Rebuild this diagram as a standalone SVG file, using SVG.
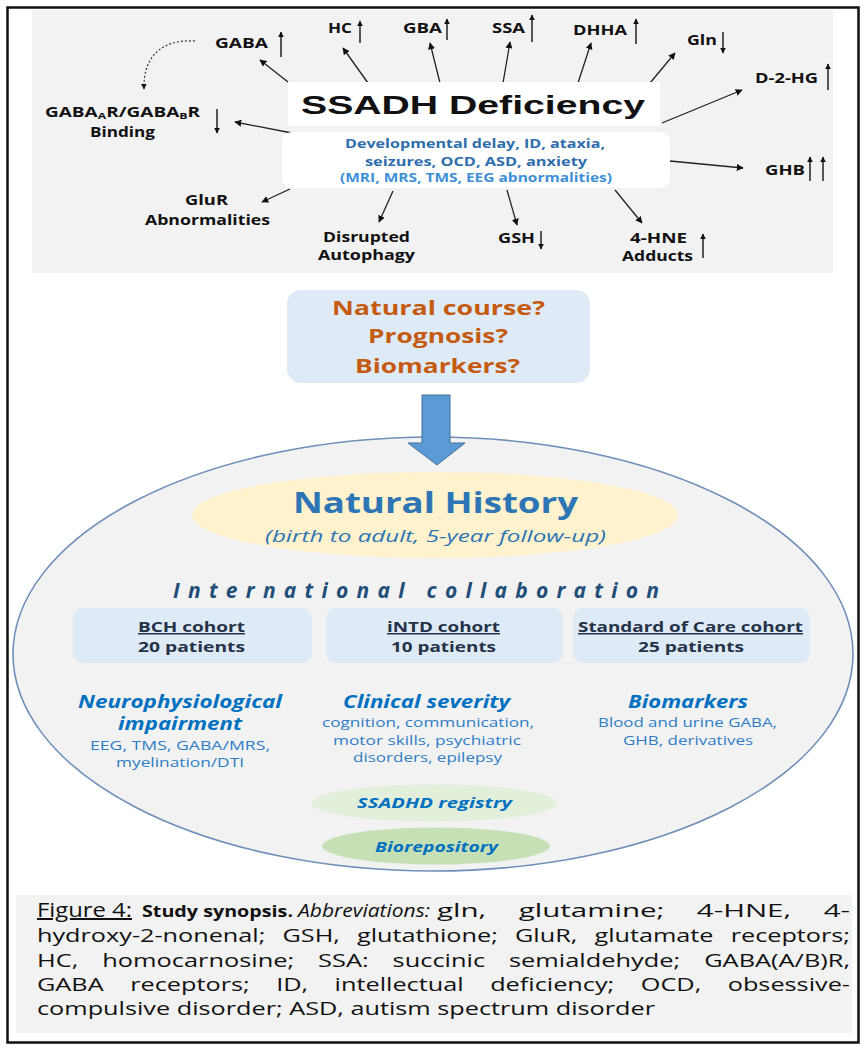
<svg xmlns="http://www.w3.org/2000/svg" width="867" height="1050" viewBox="0 0 867 1050">
<defs>
<marker id="ah" viewBox="0 0 10 10" refX="9" refY="5" markerWidth="7" markerHeight="7" markerUnits="userSpaceOnUse" orient="auto"><path d="M0,0 L10,5 L0,10 z" fill="#111"/></marker>
<marker id="ih" viewBox="0 0 10 10" refX="9" refY="5" markerWidth="6" markerHeight="6" markerUnits="userSpaceOnUse" orient="auto"><path d="M0,0 L10,5 L0,10 z" fill="#111"/></marker>
<style>
.f{font-family:"Open Sans","Liberation Sans",sans-serif}
.lbl{font-family:"Open Sans","Liberation Sans",sans-serif;font-weight:bold;font-size:14px;fill:#111}
.con{stroke:#222;stroke-width:1.3;fill:none;marker-end:url(#ah)}
.ind{stroke:#555;stroke-width:2;fill:none;marker-end:url(#ih)}
.sym{font-family:"Open Sans","Liberation Sans",sans-serif;font-weight:bold;font-size:13px;fill:#2f6eac}
.q{font-family:"Open Sans","Liberation Sans",sans-serif;font-weight:bold;font-size:20px;fill:#c55a11}
.coh{font-family:"Open Sans","Liberation Sans",sans-serif;font-weight:bold;font-size:15px;fill:#263247}
.hd{font-family:"Open Sans","Liberation Sans",sans-serif;font-weight:bold;font-style:italic;font-size:18px;fill:#0070c0}
.sub{font-family:"Open Sans","Liberation Sans",sans-serif;font-size:13px;fill:#2e7dc6}
.cap{font-family:"Open Sans","Liberation Sans",sans-serif;font-size:19px;fill:#111}
.box{fill:#deebf7}
</style>
</defs>
<rect x="0" y="0" width="867" height="1050" fill="#ffffff"/>
<rect x="7.5" y="7.5" width="851" height="1035" fill="none" stroke="#111" stroke-width="2.5"/>

<!-- top panel -->
<rect x="32" y="10" width="801" height="263" fill="#f2f2f2"/>

<g id="connectors">
<path class="con" d="M288,82 L260,60"/>
<path class="con" d="M368,83 L343,48"/>
<path class="con" d="M440,83 L430,43"/>
<path class="con" d="M503,83 L510,42"/>
<path class="con" d="M578,83 L591,43"/>
<path class="con" d="M650,83 L675,53"/>
<path class="con" d="M662,123 L742,90"/>
<path class="con" d="M670,161 L743,168"/>
<path class="con" d="M615,190 L642,223"/>
<path class="con" d="M507,190 L517,225"/>
<path class="con" d="M393,191 L379,222"/>
<path class="con" d="M290,189 L262,202"/>
<path class="con" d="M292,133 L235,122"/>
<path d="M195,41 C160,39 143,58 144,89" fill="none" stroke="#333" stroke-width="1.2" stroke-dasharray="2,2" marker-end="url(#ih)"/>
</g>

<g id="ssadh">
<rect x="288" y="82" width="372" height="44" fill="#ffffff"/>
<text x="301" y="114" font-family="Liberation Sans, Arial, sans-serif" font-weight="bold" font-size="26" fill="#111" textLength="344" lengthAdjust="spacingAndGlyphs">SSADH Deficiency</text>
</g>
<g id="symptoms">
<rect x="282" y="132" width="388" height="56" rx="10" fill="#ffffff"/>
<text x="345" y="148" class="sym" textLength="260" lengthAdjust="spacingAndGlyphs">Developmental delay, ID, ataxia,</text>
<text x="365" y="166" class="sym" textLength="222" lengthAdjust="spacingAndGlyphs">seizures, OCD, ASD, anxiety</text>
<text x="340" y="182" class="sym" style="fill:#3d8fd6" textLength="272" lengthAdjust="spacingAndGlyphs">(MRI, MRS, TMS, EEG abnormalities)</text>
</g>

<g id="gaba"><text x="215" y="48" class="lbl" textLength="53" lengthAdjust="spacingAndGlyphs">GABA</text><path class="ind" d="M281,57 L281,32"/></g>
<g id="hc"><text x="328" y="33" class="lbl" textLength="24" lengthAdjust="spacingAndGlyphs">HC</text><path class="ind" d="M360,43 L360,21"/></g>
<g id="gba"><text x="403" y="33" class="lbl" textLength="39" lengthAdjust="spacingAndGlyphs">GBA</text><path class="ind" d="M447,40 L447,19"/></g>
<g id="ssa"><text x="492" y="33" class="lbl" textLength="33" lengthAdjust="spacingAndGlyphs">SSA</text><path class="ind" d="M532,42 L532,15"/></g>
<g id="dhha"><text x="573" y="35" class="lbl" textLength="54" lengthAdjust="spacingAndGlyphs">DHHA</text><path class="ind" d="M636,44 L636,19"/></g>
<g id="gln"><text x="687" y="45" class="lbl" textLength="30" lengthAdjust="spacingAndGlyphs">Gln</text><path class="ind" d="M723,32 L723,53"/></g>
<g id="d2hg"><text x="755" y="83" class="lbl" textLength="63" lengthAdjust="spacingAndGlyphs">D-2-HG</text><path class="ind" d="M828,90 L828,64"/></g>
<g id="ghb"><text x="765" y="175" class="lbl" textLength="40" lengthAdjust="spacingAndGlyphs">GHB</text><path class="ind" d="M810,181 L810,157"/><path class="ind" d="M823,181 L823,157"/></g>
<g id="hne"><text x="630" y="243" class="lbl" textLength="57" lengthAdjust="spacingAndGlyphs">4-HNE</text><text x="622" y="261" class="lbl" textLength="71" lengthAdjust="spacingAndGlyphs">Adducts</text><path class="ind" d="M703,258 L703,234"/></g>
<g id="gsh"><text x="498" y="243" class="lbl" textLength="37" lengthAdjust="spacingAndGlyphs">GSH</text><path class="ind" d="M541,231 L541,249"/></g>
<g id="autophagy"><text x="323" y="242" class="lbl" textLength="87" lengthAdjust="spacingAndGlyphs">Disrupted</text><text x="318" y="260" class="lbl" textLength="97" lengthAdjust="spacingAndGlyphs">Autophagy</text></g>
<g id="glur"><text x="185" y="205" class="lbl" textLength="43" lengthAdjust="spacingAndGlyphs">GluR</text><text x="145" y="225" class="lbl" textLength="125" lengthAdjust="spacingAndGlyphs">Abnormalities</text></g>
<g id="gabar"><text x="45" y="117" class="lbl" textLength="155" lengthAdjust="spacingAndGlyphs">GABA<tspan font-size="9" dy="2">A</tspan><tspan dy="-2">R/GABA</tspan><tspan font-size="9" dy="2">B</tspan><tspan dy="-2">R</tspan></text><text x="90" y="137" class="lbl" textLength="65" lengthAdjust="spacingAndGlyphs">Binding</text><path class="ind" d="M217,109 L217,133"/></g>

<g id="questions">
<rect x="287" y="290" width="303" height="93" rx="14" class="box"/>
<text x="332" y="315" class="q" textLength="213" lengthAdjust="spacingAndGlyphs">Natural course?</text>
<text x="368" y="343" class="q" textLength="140" lengthAdjust="spacingAndGlyphs">Prognosis?</text>
<text x="355" y="373" class="q" textLength="165" lengthAdjust="spacingAndGlyphs">Biomarkers?</text>
</g>

<g id="natural-history">
<ellipse cx="433" cy="654" rx="420" ry="217" fill="#f2f2f2" stroke="#6f8fba" stroke-width="1.6"/>
<ellipse cx="435" cy="515" rx="243" ry="43" fill="#fff2cc"/>
<text x="293" y="513" class="f" font-weight="bold" font-size="28" fill="#2e75b6" textLength="285" lengthAdjust="spacingAndGlyphs">Natural History</text>
<text x="265" y="542" class="f" font-style="italic" font-size="16" fill="#2e75b6" textLength="341" lengthAdjust="spacingAndGlyphs">(birth to adult, 5-year follow-up)</text>
<text x="173" y="598" class="f" font-weight="bold" font-style="italic" font-size="21" fill="#1f4e79" letter-spacing="4" textLength="490" lengthAdjust="spacing">International collaboration</text>
</g>

<g id="arrow-down">
<path d="M422,395 L450,395 L450,443 L465,443 L437,465 L408,443 L422,443 Z" fill="#5b9bd5" stroke="#41719c" stroke-width="1"/>
</g>

<g id="bch">
<rect x="73" y="608" width="239" height="55" rx="10" class="box"/>
<text x="138" y="632" class="coh" text-decoration="underline" textLength="107" lengthAdjust="spacingAndGlyphs">BCH cohort</text>
<text x="138" y="652" class="coh" textLength="107" lengthAdjust="spacingAndGlyphs">20 patients</text>
</g>
<g id="intd">
<rect x="326" y="608" width="237" height="55" rx="10" class="box"/>
<text x="387" y="632" class="coh" text-decoration="underline" textLength="113" lengthAdjust="spacingAndGlyphs">iNTD cohort</text>
<text x="391" y="652" class="coh" textLength="105" lengthAdjust="spacingAndGlyphs">10 patients</text>
</g>
<g id="soc">
<rect x="573" y="608" width="237" height="55" rx="10" class="box"/>
<text x="578" y="632" class="coh" text-decoration="underline" textLength="225" lengthAdjust="spacingAndGlyphs">Standard of Care cohort</text>
<text x="638" y="652" class="coh" textLength="106" lengthAdjust="spacingAndGlyphs">25 patients</text>
</g>

<g id="neuro">
<text x="78" y="708" class="hd" textLength="204" lengthAdjust="spacingAndGlyphs">Neurophysiological</text>
<text x="118" y="730" class="hd" textLength="124" lengthAdjust="spacingAndGlyphs">impairment</text>
<text x="90" y="750" class="sub" textLength="180" lengthAdjust="spacingAndGlyphs">EEG, TMS, GABA/MRS,</text>
<text x="116" y="767" class="sub" textLength="128" lengthAdjust="spacingAndGlyphs">myelination/DTI</text>
</g>
<g id="clinical">
<text x="343" y="708" class="hd" textLength="167" lengthAdjust="spacingAndGlyphs">Clinical severity</text>
<text x="322" y="727" class="sub" textLength="212" lengthAdjust="spacingAndGlyphs">cognition, communication,</text>
<text x="333" y="745" class="sub" textLength="188" lengthAdjust="spacingAndGlyphs">motor skills, psychiatric</text>
<text x="353" y="762" class="sub" textLength="149" lengthAdjust="spacingAndGlyphs">disorders, epilepsy</text>
</g>
<g id="biomarkers">
<text x="628" y="708" class="hd" textLength="120" lengthAdjust="spacingAndGlyphs">Biomarkers</text>
<text x="598" y="727" class="sub" textLength="179" lengthAdjust="spacingAndGlyphs">Blood and urine GABA,</text>
<text x="623" y="745" class="sub" textLength="130" lengthAdjust="spacingAndGlyphs">GHB, derivatives</text>
</g>
<g id="registry">
<ellipse cx="434" cy="803" rx="123" ry="18.5" fill="#e2efda"/>
<text x="357" y="808" class="hd" style="font-size:15px" textLength="155" lengthAdjust="spacingAndGlyphs">SSADHD registry</text>
</g>
<g id="biorepository">
<ellipse cx="436" cy="846" rx="114" ry="18.5" fill="#c5e0b4"/>
<text x="375" y="852" class="hd" style="font-size:15px" textLength="123" lengthAdjust="spacingAndGlyphs">Biorepository</text>
</g>

<g id="caption">
<rect x="16" y="895" width="836" height="138" fill="#f2f2f2"/>
<text x="37" y="917" class="cap" style="font-size:20px" text-decoration="underline" textLength="95" lengthAdjust="spacingAndGlyphs">Figure 4:</text>
<text x="142" y="917" class="cap" style="font-size:15.5px;font-weight:bold" textLength="151" lengthAdjust="spacingAndGlyphs">Study synopsis.</text>
<text x="298" y="917" class="cap" style="font-style:italic" textLength="132" lengthAdjust="spacingAndGlyphs">Abbreviations:</text>
<text x="437" y="917" class="cap" word-spacing="16" textLength="413" lengthAdjust="spacingAndGlyphs">gln, glutamine; 4-HNE, 4-</text>
<text x="37" y="942" class="cap" word-spacing="8" textLength="813" lengthAdjust="spacingAndGlyphs">hydroxy-2-nonenal; GSH, glutathione; GluR, glutamate receptors;</text>
<text x="37" y="967" class="cap" word-spacing="13" textLength="813" lengthAdjust="spacingAndGlyphs">HC, homocarnosine; SSA: succinic semialdehyde; GABA(A/B)R,</text>
<text x="37" y="991" class="cap" word-spacing="15" textLength="813" lengthAdjust="spacingAndGlyphs">GABA receptors; ID, intellectual deficiency; OCD, obsessive-</text>
<text x="37" y="1015" class="cap" textLength="618" lengthAdjust="spacingAndGlyphs">compulsive disorder; ASD, autism spectrum disorder</text>
</g>
</svg>
